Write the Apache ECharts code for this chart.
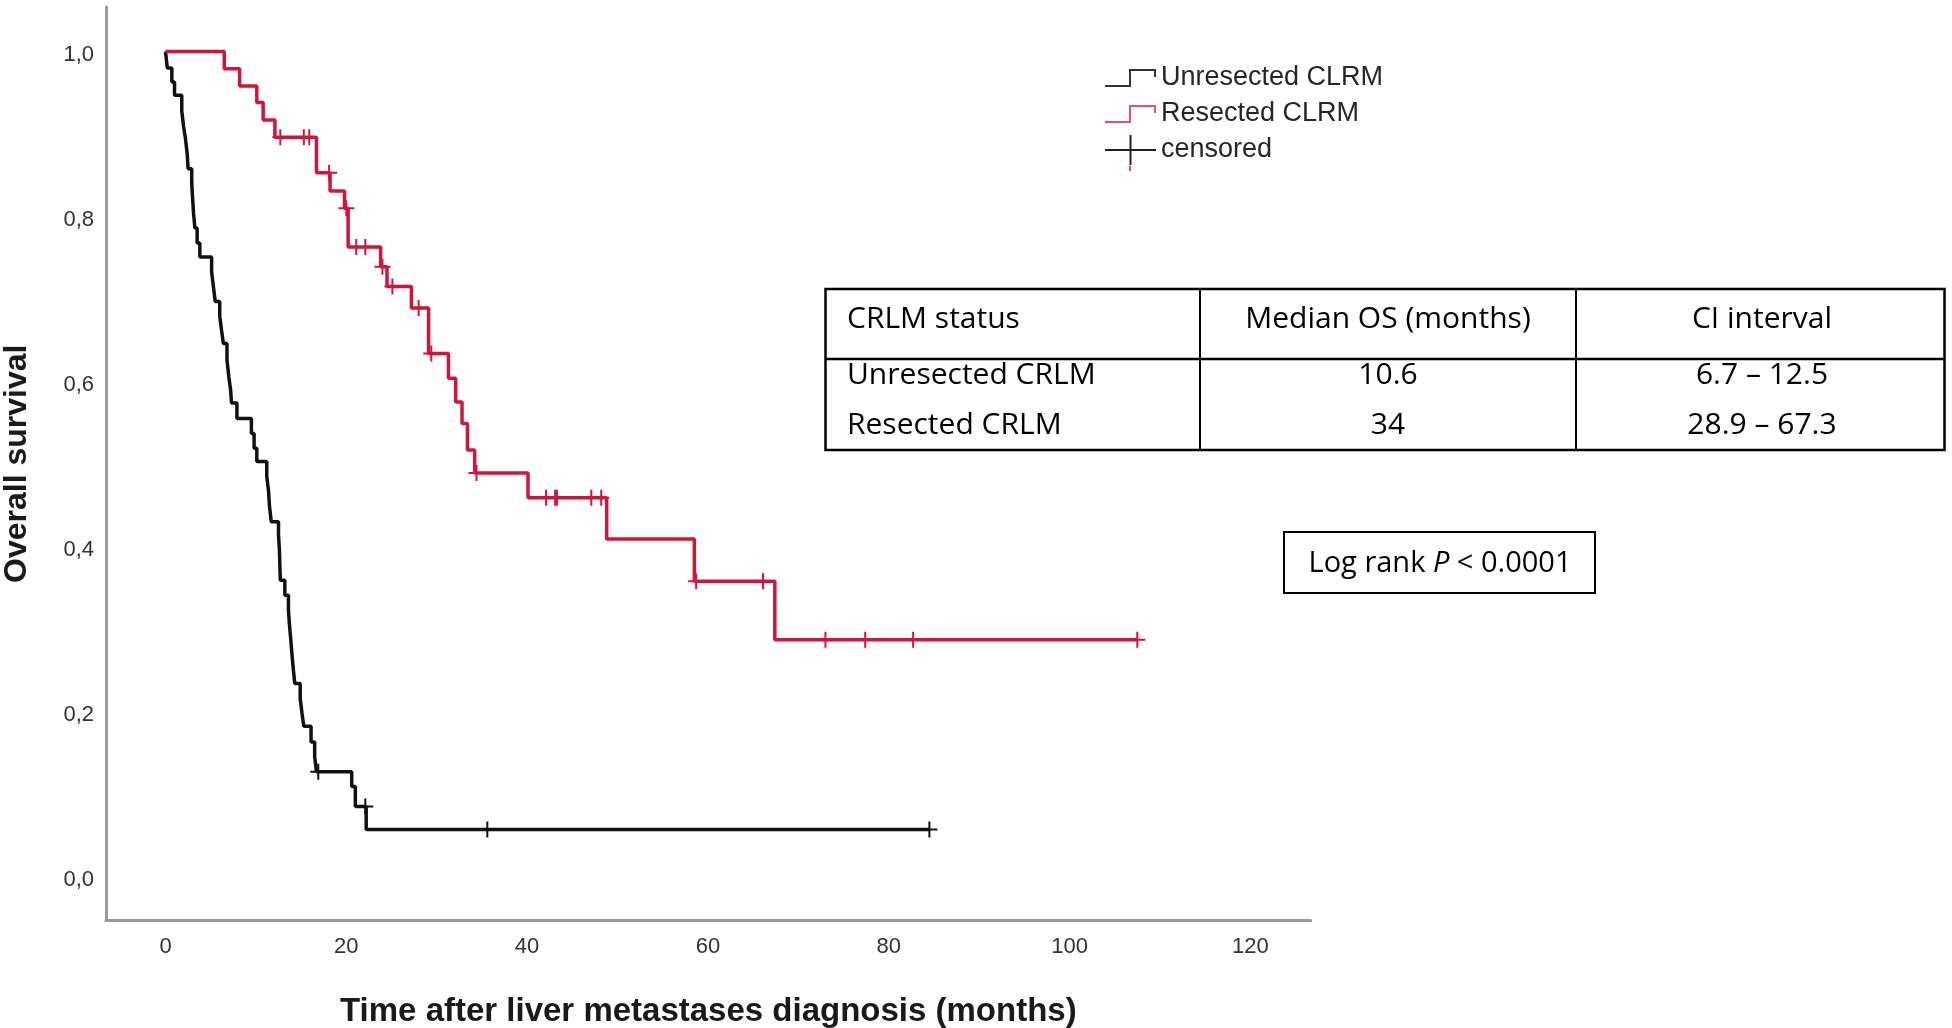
<!DOCTYPE html>
<html><head><meta charset="utf-8">
<script src="https://cdn.jsdelivr.net/npm/echarts@6/dist/echarts.min.js"></script>
<style>html,body{margin:0;padding:0;background:#fff;} #main{width:1952px;height:1028px;}</style>
</head><body><div id="main"></div>
<script>
// ---- data ----
const unresectedTimes = [0, 0.2, 0.7, 1.0, 1.8, 2.0, 2.2, 2.4, 2.5, 2.9, 3.0, 3.1, 3.25, 3.5, 3.8, 5.1, 5.3, 5.5, 6.0, 6.2, 6.4, 6.8, 7.0, 7.2, 7.3, 7.9, 9.5, 9.8, 10.1, 11.2, 11.4, 11.5, 11.7, 12.5, 12.6, 12.65, 12.7, 13.2, 13.6, 13.7, 13.85, 14.0, 14.15, 14.3, 14.9, 15.1, 15.3, 16.1, 16.5, 16.7, 20.6, 21.0, 22.2, 84.5];
const unresectedSurv = [1.0, 0.98, 0.963, 0.947, 0.928, 0.909, 0.895, 0.876, 0.858, 0.84, 0.822, 0.804, 0.786, 0.768, 0.751, 0.733, 0.715, 0.697, 0.679, 0.662, 0.646, 0.626, 0.606, 0.59, 0.574, 0.555, 0.537, 0.519, 0.503, 0.485, 0.467, 0.449, 0.43, 0.414, 0.396, 0.377, 0.359, 0.341, 0.323, 0.307, 0.288, 0.268, 0.25, 0.234, 0.216, 0.198, 0.182, 0.163, 0.145, 0.127, 0.109, 0.085, 0.057, 0.057];
const unresectedCensored = [16.9, 22.1, 35.6, 84.5];

const resectedTimes = [0, 6.5, 8.2, 10.1, 10.8, 12.1, 16.7, 18.2, 19.8, 20.2, 23.8, 24.5, 27.2, 29.1, 31.3, 32.1, 32.8, 33.4, 34.2, 40.1, 48.8, 58.5, 67.4, 107.5];
const resectedSurv = [1.0, 0.979, 0.958, 0.938, 0.917, 0.896, 0.853, 0.831, 0.81, 0.763, 0.739, 0.715, 0.689, 0.634, 0.604, 0.575, 0.549, 0.517, 0.489, 0.459, 0.409, 0.358, 0.287, 0.287];
const resectedCensored = [12.7, 15.3, 15.9, 18.1, 20.0, 21.1, 22.1, 24.0, 25.1, 28.0, 29.4, 34.4, 42.1, 43.1, 43.3, 47.1, 48.2, 58.7, 66.1, 73.0, 77.4, 82.7, 107.5];

const xTicks = [0, 20, 40, 60, 80, 100, 120];
const yTicks = [0, 0.2, 0.4, 0.6, 0.8, 1.0];
const legendNames = ['Unresected CLRM', 'Resected CLRM', 'censored'];
const xTitle = 'Time after liver metastases diagnosis (months)';
const yTitle = 'Overall survival';
const tableHeader = ['CRLM status', 'Median OS (months)', 'CI interval'];
const tableRows = [
  ['Unresected CRLM', '10.6', '6.7 – 12.5'],
  ['Resected CRLM', '34', '28.9 – 67.3']
];
const logRankParts = ['Log rank ', 'P', ' < 0.0001'];

// ---- helpers ----
function stepPoints(times, surv) { return times.map((t, i) => [t, surv[i]]); }
function survAt(times, surv, t) {
  let s = surv[0];
  for (let i = 0; i < times.length; i++) { if (times[i] <= t) s = surv[i]; }
  return s;
}
function censorPoints(cens, times, surv) { return cens.map(t => [t, survAt(times, surv, t)]); }

const BLACK = '#111111';
const RED = '#d2143c';
const plusSymbol = 'path://M7,0 H9 V16 H7 Z M0,7 H16 V9 H0 Z';
const stepIcon = 'path://M0,0 h0.01 v0.01 h-0.01 Z M0,22 H24 V6 H51 V14 H49 V8 H26 V24 H0 Z M51,29.99 h-0.01 v0.01 h0.01 Z';
const plusIcon = 'path://M0,14 H51 V16 H0 Z M24.5,0 H26.5 V30 H24.5 Z';

// table graphics
const tbl = { x0: 825.5, x1: 1944.5, y0: 289, y1: 450, sep: 359, cols: [1200, 1576] };
const colText = [{ x: 847, align: 'left' }, { x: 1388, align: 'center' }, { x: 1762, align: 'center' }];
const rowY = [319, 375, 425];
const tableFont = { fontFamily: 'Open Sans', fontSize: 30, fill: '#000' };
const graphics = [];
graphics.push({ type: 'rect', shape: { x: tbl.x0, y: tbl.y0, width: tbl.x1 - tbl.x0, height: tbl.y1 - tbl.y0 }, style: { fill: 'none', stroke: '#000', lineWidth: 2.5 } });
tbl.cols.forEach(cx => graphics.push({ type: 'line', shape: { x1: cx, y1: tbl.y0, x2: cx, y2: tbl.y1 }, style: { stroke: '#000', lineWidth: 2 } }));
graphics.push({ type: 'line', shape: { x1: tbl.x0, y1: tbl.sep, x2: tbl.x1, y2: tbl.sep }, style: { stroke: '#000', lineWidth: 2.5 } });
[tableHeader].concat(tableRows).forEach((row, r) => {
  row.forEach((txt, c) => {
    graphics.push({ type: 'text', x: colText[c].x, y: rowY[r], style: Object.assign({ text: txt, textAlign: colText[c].align, textVerticalAlign: 'middle' }, tableFont) });
  });
});
graphics.push({ type: 'rect', shape: { x: 1284, y: 532, width: 311, height: 61 }, style: { fill: 'none', stroke: '#000', lineWidth: 2 } });
graphics.push({ type: 'text', x: 1440, y: 564, style: {
  text: '{n|' + logRankParts[0] + '}{i|' + logRankParts[1] + '}{n|' + logRankParts[2] + '}',
  textAlign: 'center', textVerticalAlign: 'middle',
  rich: { n: { fontFamily: 'Open Sans', fontSize: 29, fill: '#000' }, i: { fontFamily: 'Open Sans', fontStyle: 'italic', fontSize: 29, fill: '#000' } }
} });
// clipped fragment below legend
graphics.push({ type: 'rect', shape: { x: 1129, y: 166, width: 2, height: 5 }, style: { fill: RED, opacity: 0.8 } });

const chart = echarts.init(document.getElementById('main'), null, { renderer: 'canvas' });
chart.setOption({
  animation: false,
  backgroundColor: '#fff',
  grid: { left: 106, top: 7, width: 1204.7, height: 913.5, containLabel: false, outerBoundsMode: 'none' },
  xAxis: {
    type: 'value', min: -6.582, max: 126.68,
    name: xTitle, nameLocation: 'middle', nameGap: 75,
    nameTextStyle: { fontFamily: 'Liberation Sans', fontWeight: 'bold', fontSize: 33, color: '#1a1a1a' },
    axisLine: { show: true, onZero: false, lineStyle: { color: '#9a9a9a', width: 3 } },
    axisTick: { show: false },
    splitLine: { show: false },
    axisLabel: { customValues: xTicks, fontFamily: 'Liberation Sans', fontSize: 22, color: '#333', margin: 15 }
  },
  yAxis: {
    type: 'value', min: -0.0533, max: 1.0539,
    name: yTitle, nameLocation: 'middle', nameGap: 73, nameRotate: 90,
    nameTextStyle: { fontFamily: 'Liberation Sans', fontWeight: 'bold', fontSize: 32, color: '#1a1a1a' },
    axisLine: { show: true, onZero: false, lineStyle: { color: '#9a9a9a', width: 3 } },
    axisTick: { show: false },
    splitLine: { show: false },
    axisLabel: { customValues: yTicks, fontFamily: 'Liberation Sans', fontSize: 22, color: '#333', margin: 12,
      verticalAlign: 'top', lineHeight: 7,
      formatter: v => v.toFixed(1).replace('.', ',') }
  },
  legend: {
    orient: 'vertical', left: 1100, top: 58, itemWidth: 51, itemHeight: 30, itemGap: 6,
    selectedMode: false,
    itemStyle: { borderWidth: 0 },
    textStyle: { fontFamily: 'Liberation Sans', fontSize: 27, color: '#262626', lineHeight: 30 },
    data: [
      { name: legendNames[0], icon: stepIcon, itemStyle: { color: '#333', borderWidth: 0 } },
      { name: legendNames[1], icon: stepIcon, itemStyle: { color: '#e0507a', borderWidth: 0 } },
      { name: legendNames[2], icon: plusIcon, itemStyle: { color: '#222', borderWidth: 0 } }
    ]
  },
  series: [
    { name: legendNames[0], type: 'line', step: 'end', symbol: 'none', data: stepPoints(unresectedTimes, unresectedSurv),
      lineStyle: { color: BLACK, width: 3.5 }, itemStyle: { color: BLACK }, z: 3 },
    { name: legendNames[1], type: 'line', step: 'end', symbol: 'none', data: stepPoints(resectedTimes, resectedSurv),
      lineStyle: { color: RED, width: 3.5 }, itemStyle: { color: RED }, z: 3 },
    { name: legendNames[2], type: 'scatter', symbol: plusSymbol, symbolSize: 16, data: censorPoints(unresectedCensored, unresectedTimes, unresectedSurv),
      itemStyle: { color: BLACK, opacity: 1 }, z: 4 },
    { name: 'Resected censored', type: 'scatter', symbol: plusSymbol, symbolSize: 16, data: censorPoints(resectedCensored, resectedTimes, resectedSurv),
      itemStyle: { color: RED, opacity: 1 }, z: 4 }
  ],
  graphic: graphics
});
</script>
</body></html>
